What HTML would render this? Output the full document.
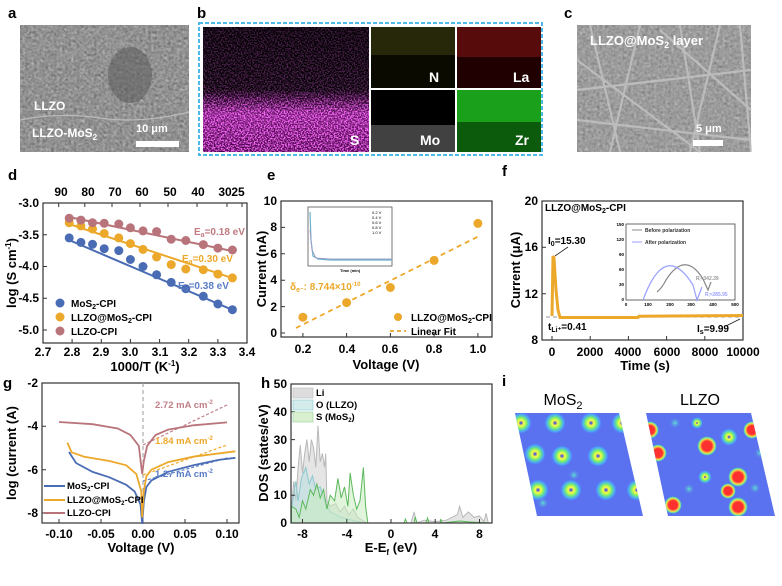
<!DOCTYPE html>
<html><head><meta charset="utf-8"><style>
html,body{margin:0;padding:0;background:#fff}
svg{display:block}
text{font-family:"Liberation Sans",Arial,sans-serif;font-weight:bold}
.n{font-weight:normal}
</style></head><body>
<svg width="782" height="586" viewBox="0 0 782 586" xmlns="http://www.w3.org/2000/svg">
<defs>
<filter id="gn" x="0" y="0" width="100%" height="100%"><feTurbulence type="fractalNoise" baseFrequency="0.35" numOctaves="2" seed="3"/><feColorMatrix type="matrix" values="0 0 0 0 0.55  0 0 0 0 0.55  0 0 0 0 0.55  0.6 0.6 0.6 0 -0.5"/></filter>
<filter id="mag" x="0" y="0" width="100%" height="100%"><feTurbulence type="fractalNoise" baseFrequency="0.7" numOctaves="1" seed="7"/><feColorMatrix type="matrix" values="0 0 0 0 0.95  0 0 0 0 0.15  0 0 0 0 0.95  4 0 0 0 -1.6"/></filter>
<linearGradient id="fadeS" x1="0" y1="0" x2="0" y2="1"><stop offset="0" stop-color="#fff" stop-opacity="0.25"/><stop offset="0.5" stop-color="#fff" stop-opacity="0.35"/><stop offset="0.68" stop-color="#fff" stop-opacity="1"/><stop offset="1" stop-color="#fff" stop-opacity="1"/></linearGradient>
<linearGradient id="magbg" x1="0" y1="0" x2="0" y2="1"><stop offset="0.5" stop-color="#600060" stop-opacity="0"/><stop offset="0.7" stop-color="#a020a0" stop-opacity="0.7"/><stop offset="1" stop-color="#800080" stop-opacity="0.55"/></linearGradient>
<mask id="mS"><rect x="203" y="27" width="166" height="125" fill="url(#fadeS)"/></mask>
<radialGradient id="rg"><stop offset="0" stop-color="#2030ff"/><stop offset="0.25" stop-color="#ffff40"/><stop offset="0.5" stop-color="#7cf06a"/><stop offset="0.8" stop-color="#40c8ff" stop-opacity="0.6"/><stop offset="1" stop-color="#5a72f0" stop-opacity="0"/></radialGradient>
<radialGradient id="rr"><stop offset="0" stop-color="#ff3030"/><stop offset="0.5" stop-color="#ff3030"/><stop offset="0.7" stop-color="#ffd040"/><stop offset="0.85" stop-color="#60f0a0"/><stop offset="1" stop-color="#5a72f0" stop-opacity="0"/></radialGradient>
<radialGradient id="rc"><stop offset="0" stop-color="#60e0d0"/><stop offset="1" stop-color="#5a72f0" stop-opacity="0"/></radialGradient>
<clipPath id="cp1"><polygon points="515,413 619,413 643,516 537,516"/></clipPath>
<clipPath id="cp2"><polygon points="646,413 751,413 775,516 668,516"/></clipPath>
</defs>

<!-- ===== a ===== -->
<text x="8" y="18" font-size="15">a</text>
<rect x="20" y="25" width="169" height="127" fill="#6e6e6e"/>
<rect x="20" y="25" width="169" height="127" filter="url(#gn)"/>
<g stroke="#a8a8a8" stroke-width="0.6" opacity="0.7">
<path d="M20,40 L189,80 M30,25 L120,110 M60,25 L189,60 M20,70 L150,25 M90,25 L189,120 M20,100 L100,30 M140,25 L60,110 M20,130 L189,100 M40,152 L160,60 M20,55 L110,25 M50,25 L189,95 M100,152 L189,40"/>
</g>
<ellipse cx="130" cy="75" rx="22" ry="28" fill="#555" opacity="0.5"/>
<path d="M20,120 Q60,112 100,118 T189,112" stroke="#bbb" stroke-width="1.2" fill="none"/>
<text x="34" y="110" font-size="12" fill="#fff">LLZO</text>
<text x="32" y="137" font-size="12" fill="#fff">LLZO-MoS<tspan font-size="8" dy="3">2</tspan></text>
<text x="136" y="132" font-size="11" fill="#fff">10 μm</text>
<rect x="136" y="141" width="43" height="6" fill="#fff"/>

<!-- ===== b ===== -->
<text x="197" y="18" font-size="15">b</text>
<rect x="199" y="23" width="343" height="132" fill="none" stroke="#3ab0e8" stroke-width="1.8" stroke-dasharray="4,2"/>
<rect x="203" y="27" width="166" height="125" fill="#000"/>
<rect x="203" y="27" width="166" height="125" fill="url(#magbg)"/>
<rect x="203" y="27" width="166" height="125" filter="url(#mag)" mask="url(#mS)"/>
<rect x="371" y="27" width="84" height="61" fill="#0a0a00"/>
<rect x="371" y="27" width="84" height="28" fill="#3a3a10" opacity="0.6"/>
<rect x="457" y="27" width="84" height="61" fill="#200000"/>
<rect x="457" y="27" width="84" height="30" fill="#701010" opacity="0.7"/>
<rect x="371" y="90" width="84" height="62" fill="#000"/>
<rect x="371" y="125" width="84" height="27" fill="#777" opacity="0.55"/>
<rect x="457" y="90" width="84" height="62" fill="#0c5a0c"/>
<rect x="457" y="90" width="84" height="32" fill="#1aa01a"/>
<text x="429" y="82" font-size="14" fill="#fff">N</text>
<text x="513" y="82" font-size="14" fill="#fff">La</text>
<text x="420" y="145" font-size="14" fill="#fff">Mo</text>
<text x="515" y="145" font-size="14" fill="#fff">Zr</text>
<text x="350" y="145" font-size="14" fill="#fff">S</text>

<!-- ===== c ===== -->
<text x="564" y="18" font-size="15">c</text>
<rect x="577" y="25" width="174" height="127" fill="#808080"/>
<rect x="577" y="25" width="174" height="127" filter="url(#gn)"/>
<g stroke="#c4c4c4" stroke-width="2.2" opacity="0.8">
<path d="M590,25 L620,152 M640,25 L610,152 M680,25 L700,152 M577,90 L751,70 M577,120 L751,140 M720,25 L690,152 M660,30 L751,110 M577,60 L700,152 M740,25 L751,152"/>
</g>
<text x="590" y="45" font-size="13" fill="#fff">LLZO@MoS<tspan font-size="9" dy="3">2</tspan><tspan dy="-3"> layer</tspan></text>
<text x="696" y="132" font-size="11" fill="#fff">5 μm</text>
<rect x="693" y="140" width="30" height="6" fill="#fff"/>

<!-- ===== d ===== -->
<text x="8" y="180" font-size="15">d</text>
<rect x="43" y="203" width="204" height="140" fill="none" stroke="#333" stroke-width="1.2"/>
<g stroke="#333" stroke-width="1">
<path d="M72.1,343v-4M101.3,343v-4M130.4,343v-4M159.6,343v-4M188.7,343v-4M217.9,343v-4"/>
<path d="M43,234.75h4M43,266.5h4M43,298.25h4M43,330h4"/>
<path d="M58.7,203v4M84.8,203v4M112,203v4M140,203v4M168,203v4M197,203v4M227,203v4M242,203v4"/>
</g>
<g font-size="12" text-anchor="end">
<text x="39" y="207">-3.0</text><text x="39" y="239">-3.5</text><text x="39" y="270">-4.0</text><text x="39" y="302">-4.5</text><text x="39" y="334">-5.0</text>
</g>
<g font-size="12" text-anchor="middle">
<text x="43" y="356">2.7</text><text x="72" y="356">2.8</text><text x="101" y="356">2.9</text><text x="130" y="356">3.0</text><text x="160" y="356">3.1</text><text x="189" y="356">3.2</text><text x="218" y="356">3.3</text><text x="247" y="356">3.4</text>
<text x="61" y="196">90</text><text x="88" y="196">80</text><text x="115" y="196">70</text><text x="142" y="196">60</text><text x="170" y="196">50</text><text x="198" y="196">40</text><text x="225" y="196">30</text><text x="238" y="196">25</text>
<text x="145" y="371" font-size="13">1000/T (K<tspan font-size="8" dy="-5">-1</tspan><tspan dy="5">)</tspan></text>
</g>
<text transform="translate(16,273) rotate(-90)" font-size="13" text-anchor="middle">log (S cm<tspan font-size="8" dy="-5">-1</tspan><tspan dy="5">)</tspan></text>
<line x1="69" y1="240" x2="232" y2="309.7" stroke="#4a6cb4" stroke-width="2"/>
<line x1="69" y1="224" x2="232" y2="277.9" stroke="#eca82a" stroke-width="2"/>
<line x1="69" y1="217" x2="232" y2="251" stroke="#b8747a" stroke-width="2"/>
<g fill="#4a6cb4"><circle cx="69.2" cy="237.9" r="4.5"/><circle cx="80.9" cy="242.4" r="4.5"/><circle cx="92.5" cy="244.3" r="4.5"/><circle cx="104.2" cy="248.7" r="4.5"/><circle cx="118.8" cy="250.6" r="4.5"/><circle cx="130.4" cy="259.5" r="4.5"/><circle cx="143" cy="266.5" r="4.5"/><circle cx="156.6" cy="274.8" r="4.5"/><circle cx="171.2" cy="282.4" r="4.5"/><circle cx="185.8" cy="288.7" r="4.5"/><circle cx="203.3" cy="296.3" r="4.5"/><circle cx="217.9" cy="304" r="4.5"/><circle cx="232.4" cy="309.7" r="4.5"/></g>
<g fill="#eca82a"><circle cx="69.2" cy="222.7" r="4.5"/><circle cx="80.9" cy="225.9" r="4.5"/><circle cx="92.5" cy="229" r="4.5"/><circle cx="104.2" cy="233.5" r="4.5"/><circle cx="118.8" cy="237.9" r="4.5"/><circle cx="130.4" cy="243.6" r="4.5"/><circle cx="143" cy="249.4" r="4.5"/><circle cx="156.6" cy="257" r="4.5"/><circle cx="171.2" cy="264.6" r="4.5"/><circle cx="185.8" cy="269" r="4.5"/><circle cx="203.3" cy="269.7" r="4.5"/><circle cx="217.9" cy="274.1" r="4.5"/><circle cx="232.4" cy="277.9" r="4.5"/></g>
<g fill="#b8747a"><circle cx="69.2" cy="218.2" r="4.5"/><circle cx="80.9" cy="220.1" r="4.5"/><circle cx="92.5" cy="222.7" r="4.5"/><circle cx="104.2" cy="223.3" r="4.5"/><circle cx="118.8" cy="224" r="4.5"/><circle cx="130.4" cy="227.8" r="4.5"/><circle cx="143" cy="230.9" r="4.5"/><circle cx="156.6" cy="231.6" r="4.5"/><circle cx="171.2" cy="239.2" r="4.5"/><circle cx="185.8" cy="240.5" r="4.5"/><circle cx="203.3" cy="244.6" r="4.5"/><circle cx="217.9" cy="248.1" r="4.5"/><circle cx="232.4" cy="250" r="4.5"/></g>
<g font-size="10">
<text x="194" y="235" fill="#c07a80">E<tspan font-size="7" dy="2">a</tspan><tspan dy="-2">=0.18 eV</tspan></text>
<text x="182" y="262" fill="#eca82a">E<tspan font-size="7" dy="2">a</tspan><tspan dy="-2">=0.30 eV</tspan></text>
<text x="178" y="289" fill="#5a7cc4">E<tspan font-size="7" dy="2">a</tspan><tspan dy="-2">=0.38 eV</tspan></text>
</g>
<circle cx="60" cy="303" r="4.5" fill="#4a6cb4"/><circle cx="60" cy="317" r="4.5" fill="#eca82a"/><circle cx="60" cy="331" r="4.5" fill="#b8747a"/>
<g font-size="10"><text x="71" y="307">MoS<tspan font-size="7" dy="2">2</tspan><tspan dy="-2">-CPI</tspan></text><text x="71" y="321">LLZO@MoS<tspan font-size="7" dy="2">2</tspan><tspan dy="-2">-CPI</tspan></text><text x="71" y="335">LLZO-CPI</text></g>

<!-- ===== e ===== -->
<text x="267" y="180" font-size="15">e</text>
<rect x="281" y="201" width="211" height="136" fill="none" stroke="#333" stroke-width="1.2"/>
<g stroke="#333"><path d="M281,306.6h4M281,280.2h4M281,253.8h4M281,227.4h4M281,333h4M302.9,337v-4M346.6,337v-4M390.4,337v-4M434.1,337v-4M477.9,337v-4"/></g>
<g font-size="12" text-anchor="end"><text x="277" y="337">0</text><text x="277" y="311">2</text><text x="277" y="284">4</text><text x="277" y="258">6</text><text x="277" y="231">8</text><text x="277" y="205">10</text></g>
<g font-size="12" text-anchor="middle"><text x="303" y="353">0.2</text><text x="347" y="353">0.4</text><text x="390" y="353">0.6</text><text x="434" y="353">0.8</text><text x="478" y="353">1.0</text><text x="386" y="369" font-size="13">Voltage (V)</text></g>
<text transform="translate(266,269) rotate(-90)" font-size="13" text-anchor="middle">Current (nA)</text>
<line x1="296" y1="328" x2="478" y2="236.6" stroke="#eca82a" stroke-width="1.8" stroke-dasharray="5,4"/>
<g fill="#eca82a"><circle cx="302.9" cy="317.2" r="4.5"/><circle cx="346.6" cy="302.6" r="4.5"/><circle cx="390.4" cy="287.5" r="4.5"/><circle cx="434.1" cy="260.4" r="4.5"/><circle cx="477.9" cy="223.4" r="4.5"/></g>
<rect x="308" y="207" width="84" height="59" fill="#fff" stroke="#555" stroke-width="0.8"/>
<path d="M310,212 L311,240 L313,256 L318,259 L330,260 L392,260" stroke="#6ab0c8" stroke-width="1.2" fill="none"/>
<path d="M310,230 L312,250 L316,258 L330,259 L392,259" stroke="#a0a0c8" stroke-width="1" fill="none"/>
<g font-size="4" class="n"><text x="372" y="214" class="n">0.2 V</text><text x="372" y="219" class="n">0.4 V</text><text x="372" y="224" class="n">0.6 V</text><text x="372" y="229" class="n">0.8 V</text><text x="372" y="234" class="n">1.0 V</text><text x="340" y="272">Time (min)</text></g>
<text x="290" y="290" font-size="10" fill="#eca82a">δ<tspan font-size="7" dy="2">e⁻</tspan><tspan dy="-2">:   8.744×10</tspan><tspan font-size="6" dy="-4">-10</tspan></text>
<circle cx="398" cy="317" r="4" fill="#eca82a"/>
<line x1="390" y1="331" x2="406" y2="331" stroke="#eca82a" stroke-width="1.8" stroke-dasharray="4,3"/>
<g font-size="10"><text x="411" y="321">LLZO@MoS<tspan font-size="7" dy="2">2</tspan><tspan dy="-2">-CPI</tspan></text><text x="411" y="335">Linear Fit</text></g>

<!-- ===== f ===== -->
<text x="502" y="176" font-size="15">f</text>
<rect x="542" y="201" width="201" height="139" fill="none" stroke="#333" stroke-width="1.2"/>
<g stroke="#333"><path d="M542,293.7h4M542,247.3h4M552,340v-4M590.2,340v-4M628.4,340v-4M666.6,340v-4M704.8,340v-4"/></g>
<g font-size="12" text-anchor="end"><text x="538" y="344">8</text><text x="538" y="298">12</text><text x="538" y="251">16</text><text x="538" y="205">20</text></g>
<g font-size="12" text-anchor="middle"><text x="552" y="356">0</text><text x="590" y="356">2000</text><text x="628" y="356">4000</text><text x="667" y="356">6000</text><text x="705" y="356">8000</text><text x="743" y="356">10000</text><text x="645" y="370" font-size="13">Time (s)</text></g>
<text transform="translate(520,270) rotate(-90)" font-size="13" text-anchor="middle">Current (μA)</text>
<line x1="546" y1="317" x2="743" y2="317" stroke="#999" stroke-width="1" stroke-dasharray="4,3"/>
<path d="M552,316 L553,256 L554,258 L556,290 L558,310 L560,317.5 L638,317.5 L639,316.3 L743,315.5" stroke="#eca82a" stroke-width="3" fill="none"/>
<text x="545" y="211" font-size="10">LLZO@MoS<tspan font-size="7" dy="2">2</tspan><tspan dy="-2">-CPI</tspan></text>
<text x="548" y="244" font-size="10">I<tspan font-size="7" dy="2">0</tspan><tspan dy="-2">=15.30</tspan></text>
<line x1="568" y1="247" x2="555" y2="256" stroke="#222" stroke-width="0.8"/>
<text x="548" y="330" font-size="10">t<tspan font-size="7" dy="2">Li⁺</tspan><tspan dy="-2">=0.41</tspan></text>
<text x="697" y="332" font-size="10">I<tspan font-size="7" dy="2">s</tspan><tspan dy="-2">=9.99</tspan></text>
<line x1="726" y1="326" x2="740" y2="319" stroke="#222" stroke-width="0.8"/>
<rect x="626" y="224" width="109" height="76" fill="#fff" stroke="#444" stroke-width="0.8"/>
<g font-size="4.5" text-anchor="end"><text x="624" y="226">150</text><text x="624" y="241">120</text><text x="624" y="256">90</text><text x="624" y="271">60</text><text x="624" y="286">30</text><text x="624" y="301">0</text></g>
<g font-size="4.5" text-anchor="middle"><text x="626" y="306">0</text><text x="648" y="306">100</text><text x="670" y="306">200</text><text x="691" y="306">300</text><text x="713" y="306">400</text><text x="735" y="306">500</text></g>
<path d="M657,292 Q662,288 666,280 Q685,250 703,279 L708,290 L711,282" stroke="#888" stroke-width="1.2" fill="none"/>
<path d="M643,300 Q665,240 693,285 L697,300 L702,287" stroke="#9aa0ff" stroke-width="1.2" fill="none"/>
<g font-size="5"><text x="645" y="232" fill="#333">Before polarization</text><text x="645" y="244" fill="#333">After polarization</text><text x="696" y="280" fill="#999">R<tspan font-size="3" dy="1">i</tspan><tspan dy="-1">=342.39</tspan></text><text x="705" y="296" fill="#9aa0ff">R<tspan font-size="3" dy="1">i</tspan><tspan dy="-1">=285.95</tspan></text></g>
<line x1="632" y1="230" x2="642" y2="230" stroke="#888"/><line x1="632" y1="242" x2="642" y2="242" stroke="#9aa0ff"/>

<!-- ===== g ===== -->
<text x="3" y="388" font-size="15">g</text>
<rect x="42" y="383" width="197" height="140" fill="none" stroke="#333" stroke-width="1.2"/>
<g stroke="#333"><path d="M42,426.3h4M42,469.7h4M42,513h4M59,523v-4M101,523v-4M143,523v-4M185,523v-4M227,523v-4"/></g>
<g font-size="12" text-anchor="end"><text x="38" y="387">-2</text><text x="38" y="430">-4</text><text x="38" y="474">-6</text><text x="38" y="517">-8</text></g>
<g font-size="12" text-anchor="middle"><text x="59" y="538">-0.10</text><text x="101" y="538">-0.05</text><text x="143" y="538">0.00</text><text x="185" y="538">0.05</text><text x="227" y="538">0.10</text><text x="141" y="552" font-size="13">Voltage (V)</text></g>
<text transform="translate(16,453) rotate(-90)" font-size="13" text-anchor="middle">log (current (A)</text>
<line x1="143" y1="383" x2="143" y2="523" stroke="#999" stroke-dasharray="4,3"/>
<g stroke-width="1.2" stroke-dasharray="3,2" fill="none"><line x1="143" y1="445" x2="227" y2="405" stroke="#c08088"/><line x1="143" y1="475" x2="227" y2="445" stroke="#eca82a"/><line x1="143" y1="481" x2="227" y2="458" stroke="#5a7cc4"/></g>
<g fill="none" stroke-width="1.8">
<path stroke="#4a6cb4" d="M69,452 L76,463 L92.6,471.9 L109.4,477.3 L126.2,484.8 L134.6,491.4 L140.5,504.4 L142.2,523.9 L143.8,502 L146.4,487 L151.4,480.5 L168.2,471.8 L193.4,465.3 L218.6,459.9 L235.4,457.8"/>
<path stroke="#eca82a" d="M67.4,442.6 L71.6,452.3 L84.2,456.7 L109.4,461 L126.2,465.3 L136.3,474 L141.3,491.4 L142.2,517.4 L143.8,491.4 L146.4,476.2 L151.4,469.7 L168.2,462.1 L193.4,456.7 L235.4,451.3"/>
<path stroke="#b8747a" d="M59,422 L92.6,424.2 L117.8,428.5 L130.4,435 L138.8,445.8 L142.2,474 L143.8,461 L147.2,445.8 L155.6,435 L168.2,429.6 L193.4,425.3 L227,422.4"/>
</g>
<g font-size="9.5"><text x="155" y="408" fill="#c08088">2.72 mA cm<tspan font-size="6" dy="-4">-2</tspan></text><text x="155" y="444" fill="#eca82a">1.84 mA cm<tspan font-size="6" dy="-4">-2</tspan></text><text x="155" y="477" fill="#5a7cc4">1.27 mA cm<tspan font-size="6" dy="-4">-2</tspan></text></g>
<g stroke-width="2"><line x1="44" y1="486" x2="65" y2="486" stroke="#4a6cb4"/><line x1="44" y1="500" x2="65" y2="500" stroke="#eca82a"/><line x1="44" y1="513" x2="65" y2="513" stroke="#b8747a"/></g>
<g font-size="9.5"><text x="67" y="489">MoS<tspan font-size="6" dy="2">2</tspan><tspan dy="-2">-CPI</tspan></text><text x="67" y="503">LLZO@MoS<tspan font-size="6" dy="2">2</tspan><tspan dy="-2">-CPI</tspan></text><text x="67" y="516">LLZO-CPI</text></g>

<!-- ===== h ===== -->
<text x="261" y="388" font-size="15">h</text>
<g stroke-width="1">
<path fill="#ccc" fill-opacity="0.5" stroke="#b8b8b8" d="M291.5,523 L291.5,509.1 L293.7,481.3 L295.9,500.8 L298.1,467.4 L300.3,445.2 L302.5,473 L304.7,453.5 L306.9,439.6 L309.2,461.8 L311.4,439.6 L313.6,447.9 L315.8,467.4 L318,425.7 L320.2,461.8 L322.4,453.5 L324.6,467.4 L325.7,453.5 L326.9,500.8 L330.2,506.3 L335.7,503.5 L340.1,511.9 L344.5,506.3 L349,514.7 L353.4,509.1 L357.8,517.4 L362.2,520.2 L366.7,523 L410.9,523 L414.2,511.9 L416.4,523 L424.2,520.2 L435.2,521.6 L446.3,520.2 L451.8,517.4 L457.4,514.7 L459.6,506.3 L462.9,517.4 L468.4,511.9 L474,517.4 L479.5,516 L483.9,521.6 L486.1,513.3 L488.3,523 Z"/>
<path fill="#b8e0e0" fill-opacity="0.55" stroke="#8cc8d0" d="M291.5,523 L291.5,509.1 L295.8,481.3 L298.1,500.8 L301.4,478.5 L305.8,467.4 L309.2,484 L312.5,475.7 L315.8,489.6 L320.2,486.9 L324.6,500.8 L330.2,511.9 L335.7,514.7 L341.2,517.4 L352.3,520.2 L363.4,523 Z"/>
<path fill="#c8ecc0" fill-opacity="0.55" stroke="#5cb85c" d="M291.5,523 L291.5,506.3 L295.9,509.1 L299.2,517.4 L302.5,500.8 L305.8,509.1 L310.3,489.6 L313.6,495.2 L316.9,484 L320.2,498 L323.5,489.6 L326.9,509.1 L330.2,495.2 L334.6,500.8 L337.9,478.5 L341.2,498 L344.5,486.9 L347.9,506.3 L350.1,473 L353.4,495.2 L356.7,509.1 L360,500.8 L363.4,467.4 L365.6,506.3 L367.8,523 L404,523 L405.4,519 L407,523 L414,523 L415.3,517 L417,523 L426,523 L427.5,518 L429,523 L440,523 L440.8,519 L442,523 L460,521 L470,522 L490,523 Z"/>
</g>
<rect x="291" y="384" width="201" height="139" fill="none" stroke="#333" stroke-width="1.2"/>
<g stroke="#333"><path d="M291,495.2h4M291,467.4h4M291,439.6h4M291,411.8h4M302.5,523v-4M346.8,523v-4M391,523v-4M435.2,523v-4M479.5,523v-4"/></g>
<g font-size="12" text-anchor="end"><text x="287" y="527">0</text><text x="287" y="499">10</text><text x="287" y="471">20</text><text x="287" y="444">30</text><text x="287" y="416">40</text><text x="287" y="388">50</text></g>
<g font-size="12" text-anchor="middle"><text x="302.5" y="538">-8</text><text x="347" y="538">-4</text><text x="391" y="538">0</text><text x="435" y="538">4</text><text x="479.5" y="538">8</text><text x="391" y="552" font-size="13">E-E<tspan font-size="8" dy="3">f</tspan><tspan dy="-3"> (eV)</tspan></text></g>
<text transform="translate(268,453) rotate(-90)" font-size="13" text-anchor="middle">DOS (states/eV)</text>
<rect x="293" y="388" width="20" height="10" fill="#ddd" stroke="#bbb" stroke-width="0.6"/>
<rect x="293" y="400" width="20" height="10" fill="#d4ecec" stroke="#8cc8d0" stroke-width="0.6"/>
<rect x="293" y="412" width="20" height="10" fill="#d8f0d0" stroke="#9ad09a" stroke-width="0.6"/>
<g font-size="9.5"><text x="316" y="396">Li</text><text x="316" y="408">O (LLZO)</text><text x="316" y="420">S (MoS<tspan font-size="6" dy="2">2</tspan><tspan dy="-2">)</tspan></text></g>

<!-- ===== i ===== -->
<text x="502" y="386" font-size="15">i</text>
<text x="563" y="405" font-size="16" class="n" text-anchor="middle">MoS<tspan font-size="11" dy="4">2</tspan></text>
<text x="700" y="405" font-size="16" class="n" text-anchor="middle">LLZO</text>
<g clip-path="url(#cp1)">
<rect x="510" y="410" width="140" height="110" fill="#5a72f0"/>
<g fill="url(#rg)">
<circle cx="521" cy="423" r="11"/><circle cx="555" cy="423" r="11"/><circle cx="591" cy="423" r="11"/><circle cx="622" cy="423" r="11"/>
<circle cx="535" cy="454" r="11"/><circle cx="562" cy="456" r="11"/><circle cx="598" cy="456" r="11"/>
<circle cx="538" cy="490" r="11"/><circle cx="571" cy="490" r="11"/><circle cx="606" cy="490" r="11"/><circle cx="637" cy="490" r="11"/>
</g>
<g fill="url(#rc)"><circle cx="574" cy="475" r="6"/><circle cx="543" cy="503" r="6"/></g>
</g>
<g clip-path="url(#cp2)">
<rect x="640" y="410" width="140" height="110" fill="#5a72f0"/>
<g fill="url(#rr)">
<circle cx="707" cy="446" r="10"/><circle cx="658" cy="453" r="9"/><circle cx="752" cy="430" r="9"/><circle cx="650" cy="430" r="9"/><circle cx="738" cy="477" r="10"/><circle cx="728" cy="491" r="8"/><circle cx="673" cy="505" r="9"/><circle cx="738" cy="507" r="10"/>
</g>
<g fill="url(#rg)"><circle cx="729" cy="437" r="9"/><circle cx="705" cy="477" r="7"/><circle cx="697" cy="423" r="6"/></g>
<g fill="url(#rc)"><circle cx="675" cy="423" r="6"/><circle cx="689" cy="489" r="6"/><circle cx="755" cy="488" r="6"/><circle cx="760" cy="453" r="6"/></g>
</g>
</svg>
</body></html>
